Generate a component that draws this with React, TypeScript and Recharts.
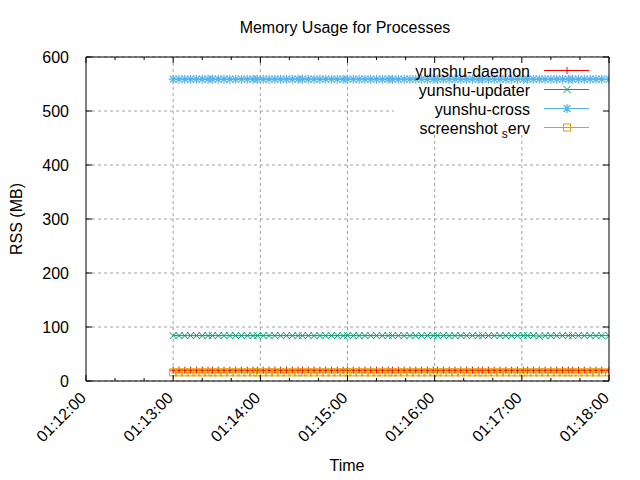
import React from "react"
import { LineChart, Line, XAxis, YAxis, CartesianGrid, ReferenceArea, Legend } from "recharts"

// sample times, seconds after 01:12:00
const times = [
  60, 64, 68, 72, 76, 80, 84, 87, 91, 95, 99, 103, 107, 111, 115, 118, 122, 126, 130, 134,
  138, 142, 146, 149, 153, 157, 161, 165, 169, 173, 177, 180, 184, 188, 192, 196, 200, 204,
  208, 211, 215, 219, 223, 227, 231, 235, 239, 242, 246, 250, 254, 258, 262, 266, 270, 273,
  277, 281, 285, 289, 293, 297, 301, 304, 308, 312, 316, 320, 324, 328, 332, 335, 339, 343,
  347, 351, 355, 360,
]

const daemon = [
  20, 20, 20, 20, 20, 20, 20, 20, 20, 20, 20, 20, 20, 20, 20, 20, 20, 20, 20, 20,
  20, 20, 20, 20, 20, 20, 20, 20, 20, 20, 20, 20, 20, 20, 20, 20, 20, 20,
  20, 20, 20, 20, 20, 20, 20, 20, 20, 20, 20, 20, 20, 20, 20, 20, 20, 20,
  20, 20, 20, 20, 20, 20, 20, 20, 20, 20, 20, 20, 20, 20, 20, 20, 20, 20,
  20, 20, 20, 20,
]
const updater = [
  84, 84, 84, 84, 84, 84, 84, 84, 84, 84, 84, 84, 84, 84, 84, 84, 84, 84, 84, 84,
  84, 84, 84, 84, 84, 84, 84, 84, 84, 84, 84, 84, 84, 84, 84, 84, 84, 84,
  84, 84, 84, 84, 84, 84, 84, 84, 84, 84, 84, 84, 84, 84, 84, 84, 84, 84,
  84, 84, 84, 84, 84, 84, 84, 84, 84, 83, 84, 84, 84, 84, 84, 84, 84, 84,
  84, 84, 84, 84,
]
const cross = [
  559, 559, 559, 559, 559, 559, 559, 559, 559, 559, 559, 559, 559, 559, 559, 559, 559, 559, 559, 559,
  559, 559, 559, 559, 559, 559, 559, 559, 559, 559, 559, 559, 559, 559, 559, 559, 559, 559,
  559, 559, 559, 559, 559, 559, 559, 559, 559, 559, 559, 559, 559, 559, 559, 559, 559, 559,
  559, 559, 559, 559, 559, 559, 559, 559, 559, 559, 559, 559, 559, 559, 559, 559, 559, 559,
  559, 559, 559, 559,
]
const serv = [
  16, 16, 16, 16, 16, 16, 16, 16, 16, 16, 16, 16, 16, 16, 16, 16, 16, 16, 16, 16,
  16, 16, 16, 16, 16, 16, 16, 16, 16, 16, 16, 16, 16, 16, 16, 16, 16, 16,
  16, 16, 16, 16, 16, 16, 16, 16, 16, 16, 16, 16, 16, 16, 16, 16, 16, 16,
  16, 16, 16, 16, 16, 16, 16, 16, 16, 16, 16, 16, 16, 16, 16, 16, 16, 16,
  16, 16, 16, 16,
]

const xTicks = [0, 20, 40, 60, 80, 100, 120, 140, 160, 180, 200, 220, 240, 260, 280, 300, 320, 340, 360]
const xMajor = [0, 60, 120, 180, 240, 300, 360]
const xLabels = ["01:12:00", "01:13:00", "01:14:00", "01:15:00", "01:16:00", "01:17:00", "01:18:00"]
const yTicks = [0, 100, 200, 300, 400, 500, 600]

// the opaque key box hides the grid in the upper right corner
const keyLeft = 212
const keyBottom = 456

const FONT = "'Liberation Sans', Arial, sans-serif"
const GRID = "#a0a0a0"
const PLOT_W = 523
const PLOT_H = 324

const chartData = times.map((t, i) => ({
  t,
  daemon: daemon[i],
  updater: updater[i],
  cross: cross[i],
  serv: serv[i],
}))

// marker shapes (gnuplot point types 1-4)
const plus = (cx: number, cy: number, c: string, k?: any) => (
  <path key={k} d={`M${cx - 3.5},${cy}H${cx + 3.5}M${cx},${cy - 3.5}V${cy + 3.5}`} stroke={c} strokeWidth={1} fill="none" />
)
const cross4 = (cx: number, cy: number, c: string, k?: any) => (
  <path key={k} d={`M${cx - 3.5},${cy - 3.5}L${cx + 3.5},${cy + 3.5}M${cx - 3.5},${cy + 3.5}L${cx + 3.5},${cy - 3.5}`} stroke={c} strokeWidth={1} fill="none" />
)
const star = (cx: number, cy: number, c: string, k?: any) => (
  <path
    key={k}
    d={`M${cx - 4.5},${cy}H${cx + 4.5}M${cx},${cy - 4.5}V${cy + 4.5}M${cx - 3.5},${cy - 3.5}L${cx + 3.5},${cy + 3.5}M${cx - 3.5},${cy + 3.5}L${cx + 3.5},${cy - 3.5}`}
    stroke={c}
    strokeWidth={1.2}
    fill="none"
  />
)
const square = (cx: number, cy: number, c: string, k?: any) => (
  <rect key={k} x={cx - 3.5} y={cy - 3.5} width={7} height={7} stroke={c} strokeWidth={1} fill="none" />
)

const series = [
  { key: "daemon", name: "yunshu-daemon", color: "#ff0000", mark: plus },
  { key: "updater", name: "yunshu-updater", color: "#009e73", mark: cross4 },
  { key: "cross", name: "yunshu-cross", color: "#56b4e9", mark: star },
  { key: "serv", name: "screenshot_serv", color: "#e69f00", mark: square },
]

// bottom ticks, plus the mirrored ones on the top border
const BottomTick = (props: any) => {
  const { x, y, payload } = props
  const v = payload.value
  const idx = xMajor.indexOf(v)
  const top = y - PLOT_H
  if (idx < 0) {
    return (
      <g>
        <line x1={x} y1={y} x2={x} y2={y - 3} stroke="#000" />
        <line x1={x} y1={top} x2={x} y2={top + 3} stroke="#000" />
      </g>
    )
  }
  return (
    <g>
      <line x1={x} y1={y} x2={x} y2={y - 6} stroke="#000" />
      <line x1={x} y1={top} x2={x} y2={top + 6} stroke="#000" />
      {v === 360 && <line x1={x} y1={top} x2={x} y2={y} stroke="#000" />}
      <text
        x={x + 1}
        y={y + 18}
        textAnchor="end"
        transform={`rotate(-45 ${x + 1} ${y + 18})`}
        fontFamily={FONT}
        fontSize={16}
        fill="#000"
      >
        {xLabels[idx]}
      </text>
    </g>
  )
}

// left ticks, plus the mirrored ones on the right border
const LeftTick = (props: any) => {
  const { x, y, payload } = props
  const right = x + PLOT_W
  return (
    <g>
      <line x1={x} y1={y} x2={x + 6} y2={y} stroke="#000" />
      <line x1={right} y1={y} x2={right - 6} y2={y} stroke="#000" />
      {payload.value === 600 && <line x1={x} y1={y} x2={right} y2={y} stroke="#000" />}
      <text x={x - 17} y={y + 6} textAnchor="end" fontFamily={FONT} fontSize={16} fill="#000">
        {payload.value}
      </text>
    </g>
  )
}

const KeyBox = () => (
  <svg width={210} height={80} style={{ display: "block" }}>
    {series.map((s, i) => {
      const cy = 10.5 + i * 19
      return (
        <g key={s.key}>
          <text x={130} y={cy + 6} textAnchor="end" fontFamily={FONT} fontSize={16} fill="#000">
            {s.key === "serv" ? (
              <>
                screenshot
                <tspan dx={4} dy={4} fontSize={12}>s</tspan>
                <tspan dy={-4}>erv</tspan>
              </>
            ) : (
              s.name
            )}
          </text>
          <line x1={144} y1={cy} x2={189} y2={cy} stroke={s.color} strokeWidth={1} />
          {s.mark(167, cy, s.color)}
        </g>
      )
    })}
  </svg>
)

// vertical grid at the full minutes only (the axis also carries 20 s minor ticks)
const minuteGrid = (p: any) => {
  const o = p && p.offset ? p.offset : { left: 86, width: PLOT_W }
  return xMajor.slice(1, -1).map((v) => o.left + (v / 360) * o.width)
}

const label = (left: number, top: number, rotate = 0): React.CSSProperties => ({
  position: "absolute",
  left,
  top,
  fontFamily: FONT,
  fontSize: 16,
  whiteSpace: "nowrap",
  transform: `translate(-50%, -50%) rotate(${rotate}deg)`,
})

export default function App() {
  return (
    <div style={{ position: "absolute", left: 0, top: 0, width: 640, height: 480, background: "#fff", overflow: "hidden" }}>
      <LineChart width={640} height={480} data={chartData} margin={{ top: 57, right: 31, bottom: 0, left: 0 }}>
        <CartesianGrid stroke={GRID} strokeDasharray="3 3" verticalCoordinatesGenerator={minuteGrid} />
        <XAxis
          dataKey="t"
          type="number"
          domain={[0, 360]}
          ticks={xTicks}
          interval={0}
          allowDataOverflow
          tickSize={0}
          tickMargin={0}
          tickLine={false}
          tick={<BottomTick />}
          axisLine={{ stroke: "#000" }}
          height={99}
        />
        <YAxis
          type="number"
          domain={[0, 600]}
          ticks={yTicks}
          interval={0}
          tickSize={0}
          tickMargin={0}
          tickLine={false}
          tick={<LeftTick />}
          axisLine={{ stroke: "#000" }}
          width={86}
        />
        {/* opaque key background */}
        <ReferenceArea x1={keyLeft} x2={360} y1={keyBottom} y2={600} fill="#fff" fillOpacity={1} stroke="none" />
        {series.map((s) => (
          <Line
            key={s.key}
            dataKey={s.key}
            name={s.name}
            type="linear"
            stroke={s.color}
            strokeWidth={1}
            isAnimationActive={false}
            activeDot={false}
            dot={(p: any) => s.mark(p.cx, p.cy, s.color, s.key + p.index)}
          />
        ))}
        <Legend
          layout="horizontal"
          verticalAlign="middle"
          align="center"
          content={<KeyBox />}
          wrapperStyle={{ position: "absolute", left: 400, top: 60, width: 210, height: 80 }}
        />
      </LineChart>
      <div style={label(345, 28)}>Memory Usage for Processes</div>
      <div style={label(347, 466)}>Time</div>
      <div style={label(17, 219, -90)}>RSS (MB)</div>
    </div>
  )
}
